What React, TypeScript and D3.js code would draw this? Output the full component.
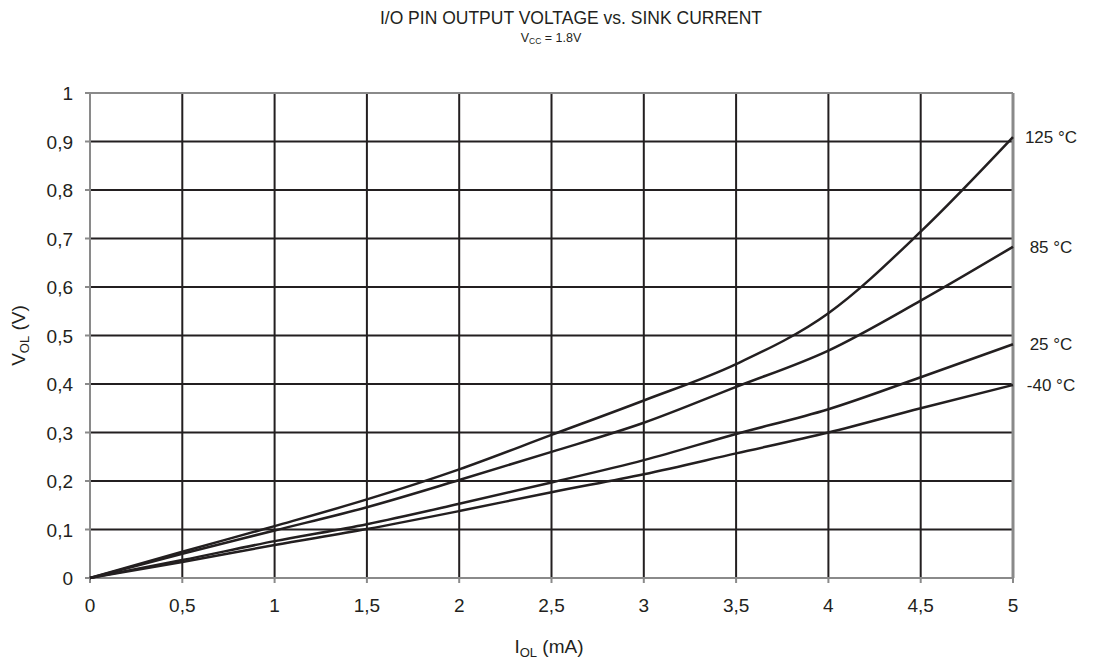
import React from "react";
import * as d3 from "d3";

const xTicks = [0, 0.5, 1, 1.5, 2, 2.5, 3, 3.5, 4, 4.5, 5];
const yTicks = [0, 0.1, 0.2, 0.3, 0.4, 0.5, 0.6, 0.7, 0.8, 0.9, 1];
const currents = [0, 0.5, 1, 1.5, 2, 2.5, 3, 3.5, 4, 4.5, 5];
const v125 = [0, 0.054, 0.107, 0.162, 0.224, 0.295, 0.366, 0.441, 0.546, 0.714, 0.909];
const v85 = [0, 0.05, 0.098, 0.146, 0.202, 0.26, 0.32, 0.394, 0.469, 0.572, 0.683];
const v25 = [0, 0.037, 0.076, 0.111, 0.153, 0.197, 0.243, 0.297, 0.348, 0.414, 0.482];
const vm40 = [0, 0.033, 0.068, 0.101, 0.138, 0.177, 0.214, 0.257, 0.3, 0.35, 0.398];
const seriesLabels = ["125 °C", "85 °C", "25 °C", "-40 °C"];
const seriesValues = [v125, v85, v25, vm40];

const fmt = (v: number) => String(v).replace(".", ",");

export default function App() {
  const W = 1096, H = 659;
  const L = 90, R = 1013, T = 93, B = 578;
  const x = d3.scaleLinear().domain([0, 5]).range([L, R]);
  const y = d3.scaleLinear().domain([0, 1]).range([B, T]);
  const line = d3
    .line<number>()
    .x((_, i) => x(currents[i]))
    .y((d) => y(d))
    .curve(d3.curveMonotoneX);
  const ink = "#231f20";
  const axisGray = "#8a8a8a";
  const font = "Liberation Sans, Arial, sans-serif";
  return (
    <svg
      width={W}
      height={H}
      style={{ position: "absolute", left: 0, top: 0, background: "#fff" }}
      fontFamily={font}
    >
      {/* grid */}
      {xTicks.slice(1, -1).map((t) => (
        <line key={"gx" + t} x1={x(t)} x2={x(t)} y1={T} y2={B} stroke={ink} strokeWidth={2} />
      ))}
      {yTicks.slice(1, -1).map((t) => (
        <line key={"gy" + t} x1={L} x2={R} y1={y(t)} y2={y(t)} stroke={ink} strokeWidth={2} />
      ))}
      {/* frame */}
      <line x1={L} x2={R} y1={T} y2={T} stroke={axisGray} strokeWidth={2} />
      <line x1={R} x2={R} y1={T} y2={B} stroke={axisGray} strokeWidth={3} />
      <line x1={L} x2={L} y1={T} y2={B + 5} stroke={axisGray} strokeWidth={2} />
      <line x1={L - 5} x2={R} y1={B} y2={B} stroke={axisGray} strokeWidth={2} />
      {/* ticks */}
      {xTicks.map((t) => (
        <g key={"xt" + t}>
          <line x1={x(t)} x2={x(t)} y1={B} y2={B + 5} stroke={axisGray} strokeWidth={2} />
          <text x={x(t)} y={B + 34} textAnchor="middle" fontSize={19} fill={ink}>
            {fmt(t)}
          </text>
        </g>
      ))}
      {yTicks.map((t) => (
        <g key={"yt" + t}>
          <line x1={L - 5} x2={L} y1={y(t)} y2={y(t)} stroke={axisGray} strokeWidth={2} />
          <text x={L - 17} y={y(t) + 7} textAnchor="end" fontSize={19} fill={ink}>
            {fmt(t)}
          </text>
        </g>
      ))}
      {/* curves */}
      {seriesValues.map((vals, i) => (
        <path key={"s" + i} d={line(vals) || ""} fill="none" stroke={ink} strokeWidth={2.5} />
      ))}
      {seriesValues.map((vals, i) => (
        <text
          key={"l" + i}
          x={1051}
          y={y(vals[vals.length - 1]) + 6}
          textAnchor="middle"
          fontSize={17}
          fill={ink}
        >
          {seriesLabels[i]}
        </text>
      ))}
      {/* titles */}
      <text x={571} y={24} textAnchor="middle" fontSize={17.5} fill={ink}>
        I/O PIN OUTPUT VOLTAGE vs. SINK CURRENT
      </text>
      <text x={551} y={42} textAnchor="middle" fontSize={12.5} fill={ink}>
        V<tspan fontSize={8.5} dy={2}>CC</tspan>
        <tspan dy={-2}> = 1.8V</tspan>
      </text>
      <text x={549} y={653} textAnchor="middle" fontSize={19} fill={ink}>
        I<tspan fontSize={13} dy={4}>OL</tspan>
        <tspan dy={-4}> (mA)</tspan>
      </text>
      <text
        transform={`translate(25,${(T + B) / 2}) rotate(-90)`}
        textAnchor="middle"
        fontSize={19}
        fill={ink}
      >
        V<tspan fontSize={13} dy={4}>OL</tspan>
        <tspan dy={-4}> (V)</tspan>
      </text>
    </svg>
  );
}
